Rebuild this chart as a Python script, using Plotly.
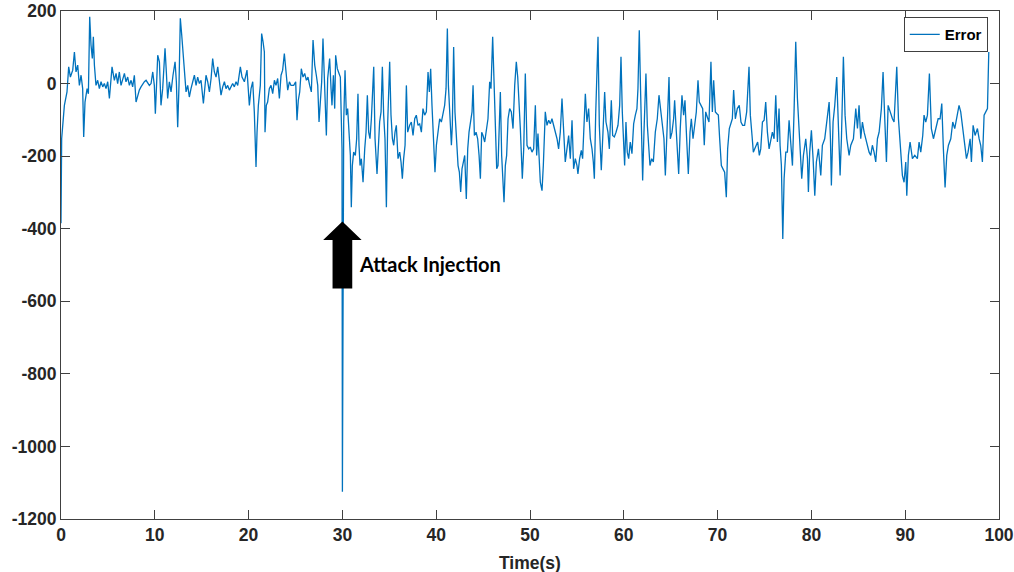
import plotly.graph_objects as go

# ---- data (time in s, error value) ----
time_s = [
    0.0, 0.07, 0.36, 0.64, 0.82, 1.0, 1.25, 1.43, 1.6, 1.78, 1.96, 2.14, 2.31, 2.42, 2.56, 2.78, 2.92,
    3.06, 3.2, 3.34, 3.45, 3.56, 3.73, 3.91, 4.09, 4.27, 4.45, 4.62, 4.8, 4.98, 5.16, 5.33, 5.44, 5.69,
    5.87, 6.04, 6.22, 6.4, 6.58, 6.76, 6.93, 7.11, 7.29, 7.47, 7.64, 7.82, 8.0, 8.18, 8.35, 8.53, 8.71,
    8.89, 9.07, 9.24, 9.42, 9.6, 9.78, 9.95, 10.06, 10.2, 10.31, 10.49, 10.66, 10.84, 11.09, 11.23,
    11.37, 11.55, 11.73, 11.94, 12.16, 12.3, 12.44, 12.58, 12.72, 12.87, 13.01, 13.15, 13.33, 13.51,
    13.68, 13.86, 14.04, 14.22, 14.4, 14.57, 14.75, 14.93, 15.18, 15.32, 15.46, 15.64, 15.82, 16.0,
    16.17, 16.35, 16.53, 16.71, 16.88, 17.06, 17.24, 17.42, 17.59, 17.77, 17.95, 18.13, 18.3, 18.48,
    18.66, 18.84, 19.12, 19.3, 19.55, 19.83, 19.97, 20.08, 20.26, 20.44, 20.61, 20.79, 20.9, 21.04,
    21.25, 21.39, 21.54, 21.68, 21.75, 21.89, 22.03, 22.21, 22.39, 22.57, 22.75, 22.92, 23.1, 23.28,
    23.46, 23.63, 23.81, 23.99, 24.17, 24.35, 24.52,
    24.81, 25.02, 25.16, 25.3, 25.45, 25.62, 25.8, 25.98, 26.16, 26.33, 26.51, 26.69, 26.87, 27.05,
    27.22, 27.37, 27.51, 27.65, 27.79, 27.93, 28.08, 28.18, 28.29, 28.43, 28.64, 28.79, 28.89, 29.04,
    29.18, 29.28, 29.46, 29.64, 29.78, 29.89, 29.96, 30.0, 30.14, 30.28, 30.42, 30.56, 30.71, 30.85,
    30.95, 31.06, 31.2, 31.38, 31.52, 31.66, 31.77, 31.88, 32.02, 32.2, 32.38, 32.52, 32.66, 32.8,
    32.94, 33.09, 33.34, 33.48, 33.69, 33.83, 33.97, 34.12, 34.26, 34.4, 34.54, 34.69, 34.83, 35.04,
    35.18, 35.33, 35.47, 35.61, 35.75, 35.93, 36.11, 36.25, 36.39, 36.53, 36.68, 36.82, 36.96, 37.17,
    37.35, 37.53, 37.71, 37.88, 38.06, 38.24, 38.42, 38.59, 38.77, 38.95, 39.13, 39.27, 39.41, 39.55,
    39.7, 39.87, 40.02, 40.19, 40.37, 40.55, 40.73, 40.9, 41.05, 41.19, 41.3, 41.44, 41.62, 41.72,
    41.86, 42.0, 42.15, 42.33, 42.47, 42.61, 42.75, 42.9, 43.04, 43.21, 43.36, 43.5, 43.68, 43.82,
    43.93, 44.07, 44.25, 44.42, 44.57, 44.71, 44.85, 44.99, 45.17, 45.35, 45.52, 45.7, 45.84, 46.02,
    46.16, 46.31, 46.45, 46.59, 46.73, 46.84, 46.98, 47.12, 47.23, 47.37, 47.51, 47.66, 47.83, 48.01,
    48.19, 48.37, 48.54, 48.69, 48.83, 48.97, 49.18, 49.33,
    49.5, 49.68, 49.86, 50.03, 50.21, 50.39, 50.57, 50.71, 50.85, 50.99, 51.1, 51.28, 51.42, 51.63,
    51.81, 51.99, 52.17, 52.34, 52.52, 52.7, 52.88, 53.05, 53.23, 53.41, 53.59, 53.76, 53.94, 54.12,
    54.3, 54.48, 54.65, 54.83, 55.01, 55.11, 55.29, 55.47, 55.61, 55.75, 55.9, 56.07, 56.25, 56.43,
    56.61, 56.75, 56.86, 57.0, 57.1, 57.25, 57.39, 57.5, 57.6, 57.78, 57.96, 58.1, 58.31, 58.46,
    58.67, 58.81, 58.99, 59.17, 59.38, 59.56, 59.7, 59.84, 59.98, 60.09, 60.23, 60.37, 60.52, 60.69,
    60.87, 61.05, 61.23, 61.4, 61.51, 61.65, 61.8, 61.9, 62.01, 62.15, 62.36, 62.51, 62.65, 62.79,
    62.97, 63.15, 63.36, 63.57, 63.75, 63.93, 64.14, 64.28, 64.43, 64.6, 64.82, 64.96, 65.14, 65.31,
    65.42, 65.56, 65.7, 65.85, 66.02, 66.2, 66.38, 66.52, 66.7, 66.88, 67.06, 67.2, 67.38, 67.55,
    67.73, 67.91, 68.05, 68.23, 68.41, 68.58, 68.73, 68.9, 69.08, 69.29, 69.44, 69.58, 69.76, 69.93,
    70.08, 70.22, 70.4, 70.57, 70.75, 70.93, 71.07, 71.25, 71.43, 71.57, 71.71, 71.89, 72.1, 72.31,
    72.49, 72.67, 72.88, 73.1, 73.35, 73.49, 73.67, 73.81, 73.95, 74.13, 74.27, 74.45,
    74.6, 74.78, 74.96, 75.13, 75.31, 75.49, 75.67, 75.84, 76.02, 76.2, 76.38, 76.55, 76.66, 76.8,
    76.95, 77.09, 77.27, 77.44, 77.62, 77.8, 77.98, 78.15, 78.33, 78.51, 78.69, 78.86, 78.97, 79.15,
    79.4, 79.58, 79.68, 79.82, 80.0, 80.18, 80.36, 80.53, 80.75, 81.0, 81.17, 81.42, 81.71, 81.89,
    82.03, 82.13, 82.31, 82.49, 82.7, 82.84, 83.06, 83.2, 83.41, 83.59, 83.77, 84.02, 84.2, 84.48,
    84.73, 84.91, 85.08, 85.26, 85.44, 85.62, 85.9, 86.15, 86.33, 86.5, 86.68, 86.86, 87.04, 87.22,
    87.46, 87.64, 87.82, 88.0, 88.18, 88.39, 88.64, 88.81, 88.99, 89.1, 89.28, 89.45, 89.7, 89.88,
    90.06, 90.17, 90.34, 90.52, 90.77, 91.02, 91.3, 91.48, 91.66, 91.87, 92.01, 92.19, 92.37, 92.58,
    92.79, 93.01, 93.26, 93.51, 93.72, 93.9, 94.07, 94.25, 94.43, 94.61, 94.86, 95.07, 95.28, 95.5,
    95.74, 95.92, 96.17, 96.35, 96.53, 96.7, 96.92, 97.06, 97.24, 97.45, 97.7, 97.88, 98.05, 98.23,
    98.41, 98.59, 98.77, 98.91,
]

error_val = [
    -385, -152, -60, -23, 46, 18, 37, 87, 32, 51, -5, 23, -14, -147, -51, -14, -28,
    184, 106, 69, 129, 51, -5, 9, -14, 5, -9, 0, -14, 5, -41, 14, 46, 9,
    28, 0, 32, -5, 14, 28, 5, 18, -5, 9, -9, 23, -51, -32, -18, -9, 0,
    5, 9, 0, -5, 0, 32, -5, -83, 5, 78, 60, -60, -14, 97, 32,
    -41, 5, -23, 23, 60, 5, -120, -5, 180, 134, 78, 32, -23, -5,
    -37, -14, 5, 23, -5, 18, 0, 9, -55, -5, 23, 5, -23, 14,
    69, 32, 18, 46, 5, -32, -9, 5, -14, -5, -18, -9, 0, -9,
    5, -5, 46, 18, 5, 37, -5, -60, -14, 5, -78, -230, -134, -60,
    -5, 138, 115, 87, -134, -60, -51, -14, -5, -28, 9, -5, 14, -41,
    23, 37, 83, 37, -18, 5, -5,
    -5, 5, -101, -46, -23, 41, 18, 28, 9, 18, -5, -23, 120, 51,
    23, -5, -106, -32, 5, 124, 32, -51, -143, 14, 69, -14, -60, 23,
    -69, 78, 41, 28, 18, -106, -180, -1125, -106, 37, -87, -69, -152, -198,
    -341, -226, -189, -198, -152, -28, -170, -226, -207, -272, -180, -134, -32, -134,
    -152, -97, 46, -152, -249, -152, -106, -78, 46, -87, -152, -341, -106, 60,
    -87, -152, -170, -134, -115, -207, -189, -216, -262, -207, -170, -5, -134, -115,
    -106, -143, -97, -87, -115, -111, -134, -69, -87, -78, 32, -23, 41, -60,
    -143, -244, -170, -134, -97, -106, -78, -60, -14, 152, -5, -87, -170, -115,
    101, -78, -152, -226, -244, -299, -235, -216, -198, -318, -180, -134, -97, -78,
    -5, -143, -134, -152, -198, -262, -134, -143, -161, -124, -97, 5, -14, 129,
    -14, -87, -235, -226, -97, -23, -198, -272, -327, -226, -198, -97, -69, -78,
    -124, -5, 60, 18, -51, -124, -262, -180,
    28, -170, -180, -175, -189, -180, -60, -198, -138, -216, -272, -295, -226, -78,
    -115, -101, -111, -97, -115, -134, -152, -180, -134, -41, -115, -216, -180, -143,
    -207, -101, -235, -207, -226, -249, -207, -184, -207, -134, -28, -106, -69, -152,
    -180, -216, -262, -87, 5, 129, -115, -189, -239, -134, -23, -106, -134, -180,
    -46, -143, -147, -134, -115, -60, 74, -78, -170, -226, -106, -189, -207, -161,
    -193, -111, -87, -69, -14, 147, -32, -152, -267, -134, 28, -115, -189, -226,
    -207, -216, -134, -97, -32, -69, -115, -152, -253, -143, 18, -152, -134, -97,
    -46, -115, -170, -249, -124, -32, -87, -46, -152, -249, -134, -97, -152, -106,
    -78, 9, -51, -60, -69, -170, -78, -92, -106, 60, -78, 9, -78, -83,
    -87, -152, -226, -235, -244, -313, -180, -124, -106, -97, -18, -97, -69, -60,
    -106, -115, -115, -78, 46, -87, -143, -189, -180, -170, -161, -198,
    -180, -106, -101, -51, -134, -180, -152, -134, -152, -32, -161, -69, -170, -226,
    -428, -262, -189, -189, -101, -170, -226, -78, 115, -41, -124, -198, -262, -198,
    -152, -207, -299, -189, -129, -207, -309, -216, -180, -253, -170, -152, -78, -51,
    -152, -281, -106, -60, 18, -69, -253, -152, 74, -87, -152, -198, -170, -152,
    -69, -124, -60, -152, -106, -134, -161, -189, -198, -170, -189, -216, -152, -134,
    -69, 32, -97, -216, -60, -78, -97, -106, -14, 46, -97, -170, -253, -272,
    -216, -309, -198, -161, -207, -198, -207, -161, -189, -143, -87, -106, -87, 28,
    -124, -152, -124, -97, -97, -55, -180, -286, -198, -170, -152, -106, -124, -97,
    -60, -78, -134, -170, -207, -189, -152, -216, -115, -143, -124, -152, -170, -216,
    -87, -78, -69, 87,
]

series_name = "Error"
x_ticks = [0, 10, 20, 30, 40, 50, 60, 70, 80, 90, 100]
y_ticks = [-1200, -1000, -800, -600, -400, -200, 0, 200]
x_title = "Time(s)"

# attack annotation (arrow drawn as a block arrow below the spike)
attack_time = 30.0
arrow_tip = -380
arrow_head_base = -431
arrow_tail = -565
arrow_head_half = 2.05
arrow_shaft_half = 1.05
attack_label = "Attack Injection"
label_x = 31.6
label_y = -496

LINE_BLUE = "#0072BD"
AXIS_COL = "#404040"

fig = go.Figure()
fig.add_trace(go.Scatter(
    x=time_s, y=error_val, mode="lines", name=series_name,
    line=dict(color=LINE_BLUE, width=1.3),
))

a = attack_time
arrow_path = (
    f"M {a} {arrow_tip} L {a + arrow_head_half} {arrow_head_base} "
    f"L {a + arrow_shaft_half} {arrow_head_base} L {a + arrow_shaft_half} {arrow_tail} "
    f"L {a - arrow_shaft_half} {arrow_tail} L {a - arrow_shaft_half} {arrow_head_base} "
    f"L {a - arrow_head_half} {arrow_head_base} Z"
)
fig.add_shape(type="path", path=arrow_path, xref="x", yref="y",
              fillcolor="black", line=dict(color="black", width=0), layer="above")

fig.add_annotation(x=label_x, y=label_y, xref="x", yref="y", text=attack_label,
                   showarrow=False, xanchor="left", yanchor="middle",
                   font=dict(family="Lato", size=20, color="black", weight="bold"))

fig.add_annotation(x=0.5, y=-0.086, xref="paper", yref="paper", text=x_title,
                   showarrow=False, xanchor="center", yanchor="middle",
                   font=dict(family="Liberation Sans", size=17.5, color="#262626", weight="bold"))

tickfont = dict(family="Liberation Sans", size=17.5, color="#262626", weight="bold")
fig.update_xaxes(range=[0, 100], tickvals=x_ticks, ticktext=[str(v) for v in x_ticks],
                 ticks="inside", ticklen=9, tickwidth=1, automargin=False,
                 tickcolor=AXIS_COL, showline=True, linecolor=AXIS_COL, linewidth=1,
                 mirror="ticks", showgrid=False, zeroline=False, tickfont=tickfont)
fig.update_yaxes(range=[-1200, 200], tickvals=y_ticks, ticktext=[str(v) for v in y_ticks],
                 ticks="inside", ticklen=9, tickwidth=1, automargin=False,
                 tickcolor=AXIS_COL, showline=True, linecolor=AXIS_COL, linewidth=1,
                 mirror="ticks", showgrid=False, zeroline=False, tickfont=tickfont)

fig.update_layout(
    width=1014, height=572,
    margin=dict(l=61, r=15, t=11, b=53, autoexpand=False),
    paper_bgcolor="white", plot_bgcolor="white",
    showlegend=True,
    legend=dict(x=0.988, y=0.988, xanchor="right", yanchor="top",
                bgcolor="white", bordercolor=AXIS_COL, borderwidth=1,
                font=dict(family="Liberation Sans", size=15, color="black", weight="bold"),
                tracegroupgap=0, itemwidth=30),
)

fig.write_html("out.html")
